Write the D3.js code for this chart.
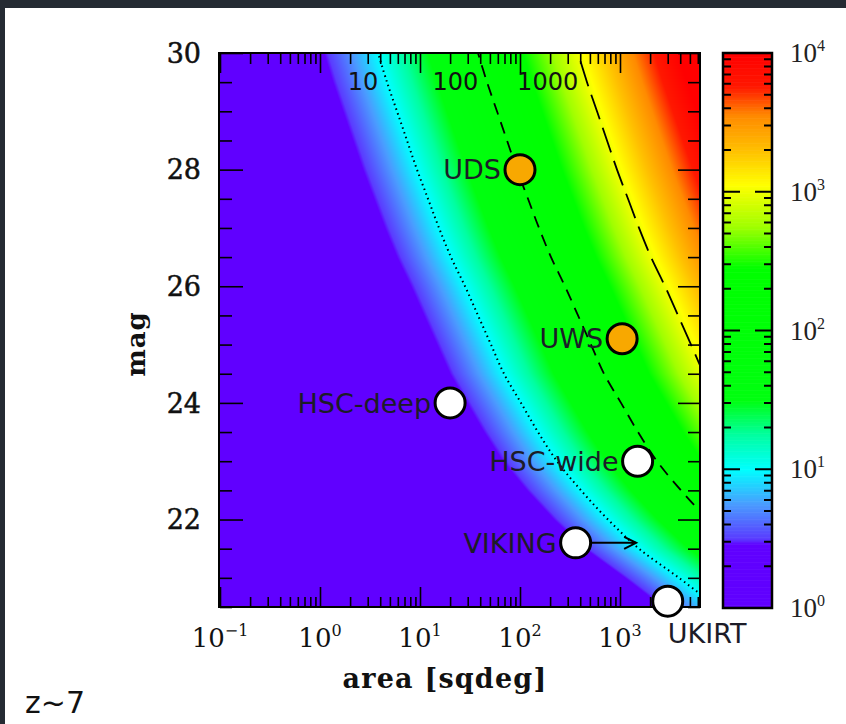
<!DOCTYPE html>
<meta charset="utf-8">
<script src="https://d3js.org/d3.v7.min.js"></script>
<style>
  body { margin: 0; background: #252b33; }
  svg { display: block; }
</style>
<div id="chart"></div>
<script>

// cumulative surface density (log10 per sqdeg) vs limiting mag
var magGrid = [20.5, 21, 21.5, 22, 22.5, 23, 23.5, 24, 24.5, 25, 25.5, 26, 26.5, 27, 27.5, 28, 28.5, 29, 29.5, 30];
var logDensity = [-2.97, -2.59, -2.19, -1.88, -1.61, -1.37, -1.18, -1.01, -0.84, -0.71, -0.58, -0.45, -0.31, -0.19, -0.08, 0.03, 0.13, 0.23, 0.33, 0.42];

var contourLevels = [10, 100, 1000];
var contourLabels = ["10", "100", "1000"];

// surveys
var surveyNames = ["UDS", "UWS", "HSC-deep", "HSC-wide", "VIKING", "UKIRT"];
var surveyArea = [100, 1050, 20, 1500, 360, 3000];
var surveyMag = [28, 25.1, 24, 23, 21.6, 20.6];
var surveyPlanned = [true, true, false, false, false, false];
var vikingArrowTo = 1450;

// axes
var xMajorTicks = [0.1, 1, 10, 100, 1000];
var xTickExp = ["−1", "0", "1", "2", "3"];
var yMajorTicks = [22, 24, 26, 28, 30];
var cbarMajor = [1, 10, 100, 1000, 10000];
var cbarExp = ["0", "1", "2", "3", "4"];

// colour table (log10 N -> colour)
var colorStops = [0, 0.46, 0.5, 0.75, 1.0, 1.25, 1.5, 2.45, 2.75, 3.05, 3.3, 3.55, 3.76, 4];
var colorList = ["#6000ff", "#6000ff", "#5a3cff", "#4a9cff", "#00ffff", "#00ffa0", "#00ff10", "#00ff00", "#a0ff00", "#ffff00", "#ffc000", "#ff8a00", "#ff1800", "#ff0000"];

var W = 846, H = 724;
var svg = d3.select("#chart").append("svg").attr("width", W).attr("height", H);
svg.append("rect").attr("width", W).attr("height", H).attr("fill", "#252b33");
svg.append("rect").attr("x", 5).attr("y", 8).attr("width", W - 5).attr("height", H - 8).attr("fill", "#ffffff");

var x = d3.scaleLog().domain([0.1, Math.pow(10, 3.8)]).range([220, 700]);
var y = d3.scaleLinear().domain([20.5, 30]).range([607, 53]);
var dens = d3.scaleLinear().domain(magGrid).range(logDensity);
var color = d3.scaleLinear().domain(colorStops).range(colorList).clamp(true);

// heat map painted on a canvas, then placed into the svg
var pw = 480, ph = 554;
var canvas = document.createElement("canvas");
canvas.width = pw; canvas.height = ph;
var ctx = canvas.getContext("2d");
var img = ctx.createImageData(pw, ph);
for (var py = 0; py < ph; py++) {
  var m = y.invert(53 + py + 0.5);
  var dm = dens(m);
  for (var px = 0; px < pw; px++) {
    var a = x.invert(220 + px + 0.5);
    var c = d3.rgb(color(Math.log10(a) + dm));
    var k = (py * pw + px) * 4;
    img.data[k] = c.r; img.data[k + 1] = c.g; img.data[k + 2] = c.b; img.data[k + 3] = 255;
  }
}
ctx.putImageData(img, 0, 0);
svg.append("image").attr("x", 220).attr("y", 53).attr("width", pw).attr("height", ph)
  .attr("preserveAspectRatio", "none").attr("href", canvas.toDataURL());

svg.append("clipPath").attr("id", "plotclip").append("rect")
  .attr("x", 220).attr("y", 53).attr("width", 480).attr("height", 554);

// contours N = area * n(<mag)
var dashes = ["1.5,3.5", "12,8", "26,9"];
var line = d3.line().curve(d3.curveCatmullRom);
contourLevels.forEach(function (L, i) {
  var pts = magGrid.map(function (m, j) {
    return [x(L / Math.pow(10, logDensity[j])), y(m)];
  });
  svg.append("path").attr("d", line(pts)).attr("clip-path", "url(#plotclip)")
    .attr("fill", "none").attr("stroke", "#000").attr("stroke-width", i == 0 ? 2 : 1.8)
    .attr("stroke-dasharray", dashes[i]);
  svg.append("text").attr("x", x(L / Math.pow(10, dens(29.6))) - 7).attr("y", 90)
    .attr("text-anchor", "end").attr("font-family", "DejaVu Sans").attr("font-size", 24)
    .attr("fill", "#111").text(contourLabels[i]);
});

// ticks (inward on all four sides)
function tickAxis(axis, tx, ty, vals, size) {
  var g = svg.append("g").attr("transform", "translate(" + tx + "," + ty + ")")
    .call(axis.tickValues(vals).tickSizeInner(-size).tickSizeOuter(0).tickFormat(""));
  g.select(".domain").remove();
  g.selectAll("line").attr("stroke", "#000").attr("stroke-width", 1.6);
}
var xMinor = x.ticks().filter(function (d) { return xMajorTicks.indexOf(d) < 0 && d > 0.1; });
var yMinor = d3.range(20.5, 30.01, 0.5).filter(function (d) { return yMajorTicks.indexOf(d) < 0; });
tickAxis(d3.axisBottom(x), 0, 607, xMajorTicks, 20);
tickAxis(d3.axisBottom(x), 0, 607, xMinor, 10);
tickAxis(d3.axisTop(x), 0, 53, xMajorTicks, 20);
tickAxis(d3.axisTop(x), 0, 53, xMinor, 11);
tickAxis(d3.axisLeft(y), 220, 0, yMajorTicks, 23);
tickAxis(d3.axisLeft(y), 220, 0, yMinor, 12);
tickAxis(d3.axisRight(y), 700, 0, yMajorTicks, 22);
tickAxis(d3.axisRight(y), 700, 0, yMinor, 12);

svg.append("rect").attr("x", 219).attr("y", 53).attr("width", 481).attr("height", 554)
  .attr("fill", "none").attr("stroke", "#000").attr("stroke-width", 2);

// tick labels
var xl = svg.selectAll(".xl").data(xMajorTicks).enter().append("text")
  .attr("x", function (d) { return x(d); }).attr("y", 647)
  .attr("text-anchor", "middle").attr("font-family", "DejaVu Serif").attr("font-size", 26).attr("fill", "#111");
xl.append("tspan").text("10");
xl.append("tspan").attr("dy", -11).attr("font-size", 16).text(function (d, i) { return xTickExp[i]; });

svg.selectAll(".yl").data(yMajorTicks).enter().append("text")
  .attr("x", 201).attr("y", function (d) { return y(d); }).attr("dy", "0.36em")
  .attr("text-anchor", "end").attr("font-family", "DejaVu Serif").attr("font-size", 27).attr("fill", "#111")
  .attr("stroke", "#111").attr("stroke-width", 0.5)
  .text(function (d) { return d; });

// axis titles
svg.append("text").attr("x", 445).attr("y", 688).attr("text-anchor", "middle")
  .attr("font-family", "DejaVu Serif").attr("font-weight", "bold").attr("font-size", 27)
  .attr("letter-spacing", 1.2).attr("fill", "#111")
  .text("area [sqdeg]");
svg.append("text").attr("transform", "translate(145,344) rotate(-90)").attr("text-anchor", "middle")
  .attr("font-family", "DejaVu Serif").attr("font-weight", "bold").attr("font-size", 26)
  .attr("letter-spacing", 1).attr("fill", "#111")
  .text("mag");

// surveys
var sx = function (i) { return x(surveyArea[i]); };
var sy = function (i) { return y(surveyMag[i]); };
var vi = surveyNames.indexOf("VIKING");
var ax0 = sx(vi) + 15, ax1 = x(vikingArrowTo), ay = sy(vi);
svg.append("line").attr("x1", ax0).attr("y1", ay).attr("x2", ax1).attr("y2", ay)
  .attr("stroke", "#000").attr("stroke-width", 2);
svg.append("path").attr("d", "M" + (ax1 - 12) + "," + (ay - 6) + "L" + ax1 + "," + ay + "L" + (ax1 - 12) + "," + (ay + 6))
  .attr("fill", "none").attr("stroke", "#000").attr("stroke-width", 2);

surveyNames.forEach(function (name, i) {
  svg.append("circle").attr("cx", sx(i)).attr("cy", sy(i)).attr("r", 15)
    .attr("fill", surveyPlanned[i] ? "#f8a800" : "#ffffff")
    .attr("stroke", "#000").attr("stroke-width", 3);
  var t = svg.append("text").attr("font-family", "DejaVu Sans").attr("font-size", 27).attr("fill", "#1c1c28").text(name);
  if (name == "UKIRT") {
    t.attr("x", sx(i)).attr("y", sy(i) + 42).attr("text-anchor", "start");
  } else {
    t.attr("x", sx(i) - 19).attr("y", sy(i)).attr("dy", "0.36em").attr("text-anchor", "end");
  }
});

// colour bar
var cb = d3.scaleLog().domain([1, 1e4]).range([608, 53]);
var cbSteps = d3.range(0, 4, 0.01);
svg.selectAll(".cbs").data(cbSteps).enter().append("rect")
  .attr("x", 723).attr("width", 49)
  .attr("y", function (d) { return cb(Math.pow(10, d + 0.01)); })
  .attr("height", function (d) { return cb(Math.pow(10, d)) - cb(Math.pow(10, d + 0.01)) + 0.6; })
  .attr("fill", function (d) { return color(d + 0.005); });
var cbMinor = cb.ticks().filter(function (d) { return cbarMajor.indexOf(d) < 0; });
function cbTicks(vals, len) {
  svg.selectAll(null).data(vals).enter().append("path")
    .attr("d", function (d) {
      var yy = cb(d);
      return "M723," + yy + "h" + len + "M772," + yy + "h" + (-len);
    })
    .attr("stroke", "#000").attr("stroke-width", 2);
}
cbTicks(cbarMajor, 17);
cbTicks(cbMinor, 8);
svg.append("rect").attr("x", 723).attr("y", 53).attr("width", 49).attr("height", 555)
  .attr("fill", "none").attr("stroke", "#000").attr("stroke-width", 2.5);
var cl = svg.selectAll(".cl").data(cbarMajor).enter().append("text")
  .attr("x", 790).attr("y", function (d) { return cb(d) + 9; })
  .attr("font-family", "Liberation Serif").attr("font-size", 27).attr("fill", "#222");
cl.append("tspan").text("10");
cl.append("tspan").attr("dy", -11).attr("font-size", 16).text(function (d, i) { return cbarExp[i]; });

svg.append("text").attr("x", 25).attr("y", 713).attr("font-family", "DejaVu Sans").attr("font-size", 30)
  .attr("fill", "#111").text("z~7");

</script>
